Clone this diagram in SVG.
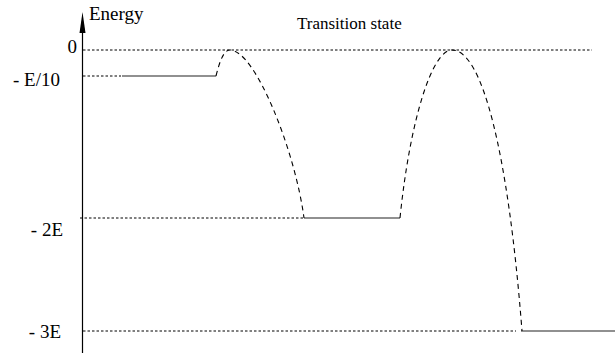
<svg xmlns="http://www.w3.org/2000/svg" width="616" height="353" viewBox="0 0 616 353">
<style>
.lbl{font-size:19px;text-anchor:end}
.dot{stroke:#000;stroke-width:1;stroke-dasharray:2.5,2;fill:none}
.dash{stroke:#000;stroke-width:1.1;stroke-dasharray:5,4;fill:none}
.lvl{stroke:#222;stroke-width:1.2;fill:none}
</style>
<rect width="616" height="353" fill="#fff"/>
<g id="axis" font-family="'Liberation Serif', 'DejaVu Serif', serif">
<line x1="82.5" y1="28" x2="82.5" y2="353" stroke="#000" stroke-width="1.2"/>
<polygon points="82.5,12 79.5,33 85.5,33" fill="#000"/>
<text x="89" y="20" font-size="19">Energy</text>
</g>
<g id="ticks" font-family="'Liberation Serif', 'DejaVu Serif', serif">
<text class="lbl" x="77" y="53">0</text>
<text class="lbl" x="60" y="86">- E/10</text>
<text class="lbl" x="63" y="236">- 2E</text>
<text class="lbl" x="61" y="338">- 3E</text>
</g>
<g id="guides">
<line class="dot" x1="83" y1="50" x2="592" y2="50"/>
<line class="dot" x1="83" y1="76" x2="121" y2="76"/>
<line class="dot" x1="80" y1="218" x2="304" y2="218"/>
<line class="dot" x1="83" y1="331" x2="516" y2="331"/>
</g>
<g id="levels">
<line class="lvl" x1="122" y1="76" x2="216" y2="76"/>
<line class="lvl" x1="304" y1="218" x2="400" y2="218"/>
<line class="lvl" x1="521" y1="331" x2="615" y2="331"/>
</g>
<g id="connectors">
<path class="dash" d="M216,76 C220,60 224,50 230,50 C255,50 295,150 304,218"/>
<path class="dash" d="M400,218 C410,120 432,50 452,50 C482,50 508,150 522,331"/>
</g>
<g id="transition-state" font-family="'Liberation Serif', 'DejaVu Serif', serif">
<text x="297" y="29" font-size="17">Transition state</text>
</g>
</svg>
